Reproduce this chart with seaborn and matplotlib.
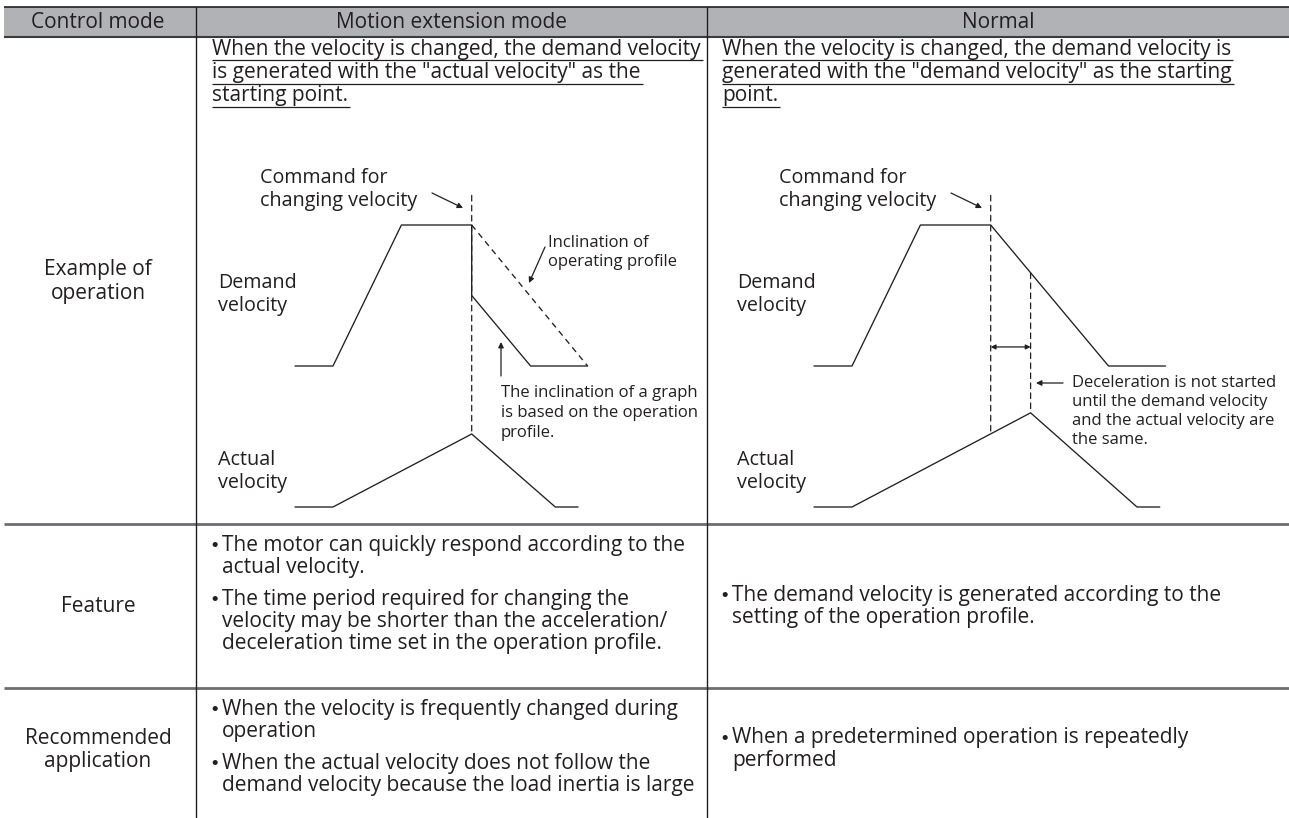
import numpy as np
import pandas as pd
import seaborn as sns
import matplotlib.pyplot as plt
from matplotlib.patches import ConnectionPatch

sns.set_theme(style='white')
plt.rcParams['font.family'] = ['Open Sans', 'DejaVu Sans']

ink = '#231f20'
W, H = 1289, 818

# ---- table text ----
header = ['Control mode', 'Motion extension mode', 'Normal']
row_example = ['Example of', 'operation']
row_feature = ['Feature']
row_recommended = ['Recommended', 'application']

intro_motion = ['When the velocity is changed, the demand velocity',
                'is generated with the "actual velocity" as the',
                'starting point.']
intro_normal = ['When the velocity is changed, the demand velocity is',
                'generated with the "demand velocity" as the starting',
                'point.']

feature_motion = [['The motor can quickly respond according to the', 'actual velocity.'],
                  ['The time period required for changing the',
                   'velocity may be shorter than the acceleration/',
                   'deceleration time set in the operation profile.']]
feature_normal = [['The demand velocity is generated according to the',
                   'setting of the operation profile.']]
recommended_motion = [['When the velocity is frequently changed during', 'operation'],
                      ['When the actual velocity does not follow the',
                       'demand velocity because the load inertia is large']]
recommended_normal = [['When a predetermined operation is repeatedly', 'performed']]

cmd_label = ['Command for', 'changing velocity']
demand_label = ['Demand', 'velocity']
actual_label = ['Actual', 'velocity']
incl_note = ['Inclination of', 'operating profile']
graph_note = ['The inclination of a graph', 'is based on the operation', 'profile.']
decel_note = ['Deceleration is not started', 'until the demand velocity',
              'and the actual velocity are', 'the same.']

# ---- velocity profiles (time in arbitrary units, velocity relative to top speed) ----
t_cmd = 4.65     # command for changing velocity
t_same = 5.7     # normal mode: demand velocity == actual velocity

motion_demand_t = [0, 1, 2.8, 4.65, 4.65, 6.2, 7.7]
motion_demand_v = [0, 0, 1, 1, 0.5, 0, 0]
motion_profile_t = [4.65, 7.7]
motion_profile_v = [1, 0]
motion_actual_t = [0, 1, 4.65, 6.85, 7.45]
motion_actual_v = [0, 0, 1, 0, 0]

normal_demand_t = [0, 1, 2.8, 4.65, 7.75, 9.25]
normal_demand_v = [0, 0, 1, 1, 0, 0]
normal_actual_t = [0, 1, 5.7, 8.5, 9.1]
normal_actual_v = [0, 0, 1.29, 0, 0]
normal_demand_at_same = 0.66

# ---- figure / table frame ----
fig = plt.figure(figsize=(W / 100, H / 100), dpi=100)
fig.patch.set_facecolor('white')
ax = fig.add_axes([0, 0, 1, 1])
ax.set_xlim(0, W)
ax.set_ylim(H, 0)
ax.axis('off')

col_x = [196, 707]
col_mid = [98, 451, 998]
head_top, head_bot = 7, 37
row_y = [524, 688]

ax.axhspan(head_top, head_bot, xmin=4 / W, xmax=1, color='#b0b2b5', lw=0)
ax.hlines(head_top, 4, W, color=ink, lw=1.2)
ax.hlines(head_bot, 4, W, color='#3c3c3c', lw=1.5)
ax.hlines(row_y, 4, W, color='#6d6e71', lw=2.0)
ax.vlines(col_x, head_top, H, color=ink, lw=1.0)

renderer = fig.canvas.get_renderer()


def fit_size(s, width_px):
    t = ax.text(0, 0, s, fontsize=10)
    w = t.get_window_extent(renderer).width
    t.remove()
    return 10 * width_px / w


fs = fit_size(intro_motion[0], 488)
fs_label = fs * 0.95
fs_small = fit_size(decel_note[0], 205)


def put(x, y, s, size=fs, ha='left', **kw):
    return ax.text(x, y, s, fontsize=size, ha=ha, va='center', color=ink, **kw)


def put_lines(x, y0, lines, step=23, size=fs, ha='left'):
    return [put(x, y0 + i * step, s, size, ha) for i, s in enumerate(lines)]


# header + row labels
for mid, s in zip(col_mid, header):
    put(mid, (head_top + head_bot) / 2, s, ha='center')
put_lines(col_mid[0], 270, row_example, ha='center')
put_lines(col_mid[0], 606, row_feature, ha='center')
put_lines(col_mid[0], 738, row_recommended, ha='center')

# underlined intro sentences
inv = ax.transData.inverted()
for x0, lines in [(212, intro_motion), (722, intro_normal)]:
    for t in put_lines(x0, 49, lines, step=23.5):
        bb = t.get_window_extent(renderer)
        xa = inv.transform((bb.x0, bb.y0))[0]
        xb = inv.transform((bb.x1, bb.y0))[0]
        ty = t.get_position()[1]
        ax.hlines(ty + 11, xa, xb + 2, color=ink, lw=0.9)


def bullets(x, y0, items, step=22.5, gap=9):
    y = y0
    for item in items:
        put(x + 3, y + 1, '\u2022', size=fs * 0.85, ha='center', family='DejaVu Sans')
        put_lines(x + 10, y, item, step=step)
        y += len(item) * step + gap


bullets(212, 545, feature_motion)
bullets(722, 595, feature_normal)
bullets(212, 709, recommended_motion)
bullets(722, 738, recommended_normal)

# ---- velocity diagrams ----
px_per_t = 38


def panel_axes(left, top, height, t_max):
    a = fig.add_axes([left / W, 1 - (top + height) / H, t_max * px_per_t / W, height / H])
    a.set_xlim(0, t_max)
    a.set_ylim(0, 1)
    a.axis('off')
    return a


line_kw = dict(color=ink, lw=0.95, estimator=None, sort=False, clip_on=False)
dash = (0, (4.5, 3.5))

for left, dem_t, dem_v, act_t, act_v in [
        (295, motion_demand_t, motion_demand_v, motion_actual_t, motion_actual_v),
        (814, normal_demand_t, normal_demand_v, normal_actual_t, normal_actual_v)]:
    axd = panel_axes(left, 225, 141, 10)
    axa = panel_axes(left, 434, 73, 10)
    sns.lineplot(x=dem_t, y=dem_v, ax=axd, **line_kw)
    sns.lineplot(x=act_t, y=act_v, ax=axa, **line_kw)
    # command marker
    fig.add_artist(ConnectionPatch(xyA=(t_cmd, 1.21), coordsA=axd.transData,
                                   xyB=(t_cmd, 1.0), coordsB=axa.transData,
                                   color=ink, lw=0.9, ls=dash))
    if left == 295:
        sns.lineplot(x=motion_profile_t, y=motion_profile_v, ax=axd,
                     linestyle=dash, **line_kw)
    else:
        fig.add_artist(ConnectionPatch(xyA=(t_same, normal_demand_at_same), coordsA=axd.transData,
                                       xyB=(t_same, normal_actual_v[2]), coordsB=axa.transData,
                                       color=ink, lw=0.9, ls=dash))
        axd.annotate('', xy=(t_cmd, 0.135), xytext=(t_same, 0.135),
                     arrowprops=dict(arrowstyle='<|-|>', color=ink, lw=0.9,
                                     mutation_scale=7, shrinkA=0, shrinkB=0))

arrow_kw = dict(arrowstyle='-|>', color=ink, lw=0.9, mutation_scale=8, shrinkA=0, shrinkB=0)

for dx in [0, 519]:
    put_lines(260 + dx, 178, cmd_label, size=fs_label)
    put_lines(218 + dx, 283, demand_label, size=fs_label)
    put_lines(218 + dx, 460, actual_label, size=fs_label)
    ax.annotate('', xy=(463 + dx, 208), xytext=(432 + dx, 193), arrowprops=arrow_kw)

put_lines(548, 243, incl_note, step=19, size=fs_small)
ax.annotate('', xy=(529, 283), xytext=(545, 247), arrowprops=arrow_kw)
put_lines(501, 393, graph_note, step=20, size=fs_small)
ax.annotate('', xy=(501, 342), xytext=(501, 376), arrowprops=arrow_kw)
put_lines(1072, 383, decel_note, step=19, size=fs_small)
ax.annotate('', xy=(1036, 383), xytext=(1063, 383), arrowprops=arrow_kw)

fig.savefig('out.png', dpi=100, facecolor='white')
